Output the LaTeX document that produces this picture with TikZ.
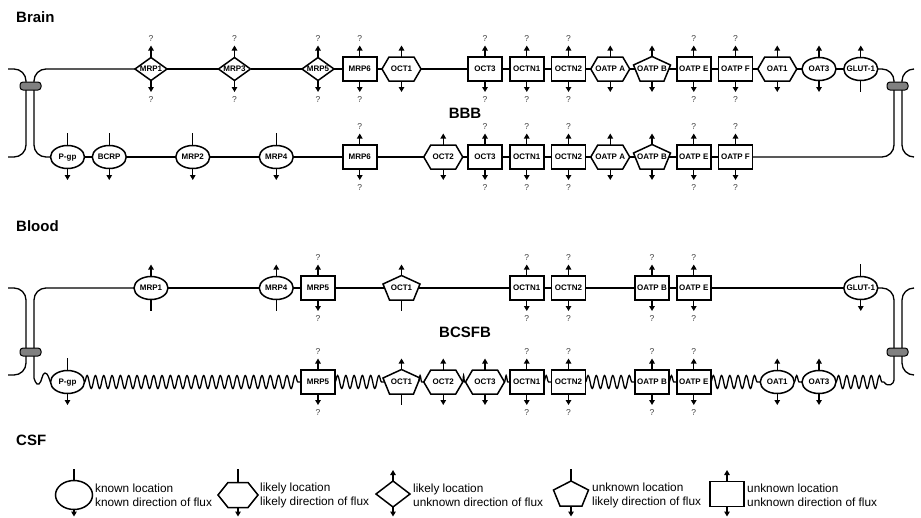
\documentclass[tikz,border=0pt]{standalone}
\usepackage{fontspec}
\setmainfont{Liberation Sans}
\usetikzlibrary{arrows.meta,decorations.pathmorphing}
\newcommand\XK[1]{151+41.75*(#1)}
\tikzset{
  membrane/.style={line width=1.3pt, draw=black},
  outline/.style={line width=1.5pt, draw=black, fill=white},
  tbox/.style={rectangle, inner sep=0pt, outer sep=0pt, font=\bfseries\fontsize{8}{9}\selectfont, text height=5.8pt, text depth=0pt},
  flux/.style={line width=1.3pt, -{Triangle[width=5.5pt,length=5pt]}},
  tick/.style={line width=1.3pt},
  qmark/.style={inner sep=0pt, font=\fontsize{8.5}{9}\selectfont, text=black!75, text height=6pt, text depth=0pt},
  sect/.style={font=\bfseries\fontsize{15}{17}\selectfont, inner sep=0pt},
  junction/.style={rectangle, rounded corners=3pt, draw=black, line width=1pt, fill=black!50, minimum width=21pt, minimum height=8pt, inner sep=0pt},
  wavy/.style={decorate, decoration={snake, segment length=#1, amplitude=6.5pt}},
  legtext/.style={anchor=west, align=left, inner sep=0pt, font=\fontsize{11.8}{14}\selectfont},
}
% transporter shapes: name, grid index, y, text
\newcommand\REC[4]{\node[tbox, draw, fill=white, line width=1.5pt, minimum width=34pt, minimum height=24pt] (#1) at ({\XK{#2}},#3) {#4};}
\newcommand\ELL[4]{\path[outline] ({\XK{#2}},#3) ellipse [x radius=17pt, y radius=11.5pt];
  \node[tbox, minimum width=34pt, minimum height=23pt] (#1) at ({\XK{#2}},#3) {#4};}
\newcommand\HEX[4]{\path[outline, shift={({\XK{#2}},#3)}] (-19.5,0) -- (-12.5,-12) -- (12.5,-12) -- (19.5,0) -- (12.5,12) -- (-12.5,12) -- cycle;
  \node[tbox, minimum width=39pt, minimum height=24pt] (#1) at ({\XK{#2}},#3) {#4};}
\newcommand\PEN[4]{\path[outline, shift={({\XK{#2}},#3)}] (0,-12.5) -- (18.5,-4) -- (12,12) -- (-12,12) -- (-18.5,-4) -- cycle;
  \node[tbox, minimum width=33.8pt, minimum height=24pt] (#1) at ({\XK{#2}},#3) {#4};}
\newcommand\DIA[4]{\path[outline, shift={({\XK{#2}},#3)}] (-16,0) -- (0,-11.5) -- (16,0) -- (0,11.5) -- cycle;
  \node[tbox, minimum width=32pt, minimum height=23pt] (#1) at ({\XK{#2}},#3) {#4};}
% flux marks
\newcommand\UParr[1]{\coordinate (#1-t) at ([yshift=23.5pt]#1.center); \draw[flux] (#1) -- (#1-t);}
\newcommand\DNarr[1]{\coordinate (#1-b) at ([yshift=-23pt]#1.center); \draw[flux] (#1) -- (#1-b);}
\newcommand\UPtick[1]{\coordinate (#1-t) at ([yshift=24pt]#1.center); \draw[tick] (#1) -- (#1-t);}
\newcommand\DNtick[1]{\coordinate (#1-b) at ([yshift=-23pt]#1.center); \draw[tick] (#1) -- (#1-b);}
\newcommand\Qmarks[1]{\node[qmark] (#1-qt) at ([yshift=31pt]#1.center) {?};
  \node[qmark] (#1-qb) at ([yshift=-30.5pt]#1.center) {?};}
\newcommand\FQ[1]{\UParr{#1}\DNarr{#1}\Qmarks{#1}}
\newcommand\FUD[1]{\UParr{#1}\DNarr{#1}}
\newcommand\FUP[1]{\UParr{#1}\DNtick{#1}}
\newcommand\FDN[1]{\UPtick{#1}\DNarr{#1}}
\begin{document}
\begin{tikzpicture}[x=1pt, y=-1pt]
\fill[white] (0,0) rectangle (921,517);
\useasboundingbox (0,0) rectangle (921,517);

% section labels
\node[sect, anchor=west] (lbl-brain) at (16,17) {Brain};
\node[sect] (lbl-bbb) at (465,113) {BBB};
\node[sect, anchor=west] (lbl-blood) at (16,226) {Blood};
\node[sect] (lbl-bcsfb) at (465,332) {BCSFB};
\node[sect, anchor=west] (lbl-csf) at (16,440) {CSF};

% ---------------- BBB top (brain side) ----------------
\DIA{bt-mrp1}{0}{69}{MRP1}
\DIA{bt-mrp3}{2}{69}{MRP3}
\DIA{bt-mrp5}{4}{69}{MRP5}
\REC{bt-mrp6}{5}{69}{MRP6}
\HEX{bt-oct1}{6}{69}{OCT1}
\REC{bt-oct3}{8}{69}{OCT3}
\REC{bt-octn1}{9}{69}{OCTN1}
\REC{bt-octn2}{10}{69}{OCTN2}
\HEX{bt-oatpa}{11}{69}{OATP A}
\PEN{bt-oatpb}{12}{69}{OATP B}
\REC{bt-oatpe}{13}{69}{OATP E}
\REC{bt-oatpf}{14}{69}{OATP F}
\HEX{bt-oat1}{15}{69}{OAT1}
\ELL{bt-oat3}{16}{69}{OAT3}
\ELL{bt-glut1}{17}{69}{GLUT-1}
\FQ{bt-mrp1}\FQ{bt-mrp3}\FQ{bt-mrp5}\FQ{bt-mrp6}\FUD{bt-oct1}\FQ{bt-oct3}\FQ{bt-octn1}\FQ{bt-octn2}
\FUD{bt-oatpa}\FUD{bt-oatpb}\FQ{bt-oatpe}\FQ{bt-oatpf}\FUD{bt-oat1}\FUD{bt-oat3}\FUP{bt-glut1}

% ---------------- BBB bottom (blood side) ----------------
\ELL{bb-pgp}{-2}{157}{P-gp}
\ELL{bb-bcrp}{-1}{157}{BCRP}
\ELL{bb-mrp2}{1}{157}{MRP2}
\ELL{bb-mrp4}{3}{157}{MRP4}
\REC{bb-mrp6}{5}{157}{MRP6}
\HEX{bb-oct2}{7}{157}{OCT2}
\REC{bb-oct3}{8}{157}{OCT3}
\REC{bb-octn1}{9}{157}{OCTN1}
\REC{bb-octn2}{10}{157}{OCTN2}
\HEX{bb-oatpa}{11}{157}{OATP A}
\PEN{bb-oatpb}{12}{157}{OATP B}
\REC{bb-oatpe}{13}{157}{OATP E}
\REC{bb-oatpf}{14}{157}{OATP F}
\FDN{bb-pgp}\FDN{bb-bcrp}\FDN{bb-mrp2}\FDN{bb-mrp4}\FQ{bb-mrp6}\FUD{bb-oct2}\FQ{bb-oct3}\FQ{bb-octn1}
\FQ{bb-octn2}\FUD{bb-oatpa}\FUD{bb-oatpb}\FQ{bb-oatpe}\FQ{bb-oatpf}

% ---------------- BCSFB top (blood side) ----------------
\ELL{ct-mrp1}{0}{288}{MRP1}
\ELL{ct-mrp4}{3}{288}{MRP4}
\REC{ct-mrp5}{4}{288}{MRP5}
\PEN{ct-oct1}{6}{288}{OCT1}
\REC{ct-octn1}{9}{288}{OCTN1}
\REC{ct-octn2}{10}{288}{OCTN2}
\REC{ct-oatpb}{12}{288}{OATP B}
\REC{ct-oatpe}{13}{288}{OATP E}
\ELL{ct-glut1}{17}{288}{GLUT-1}
\FUP{ct-mrp1}\FUP{ct-mrp4}\FQ{ct-mrp5}\FUP{ct-oct1}\FQ{ct-octn1}\FQ{ct-octn2}\FQ{ct-oatpb}\FQ{ct-oatpe}\FDN{ct-glut1}

% ---------------- BCSFB bottom (CSF side) ----------------
\ELL{cb-pgp}{-2}{382}{P-gp}
\REC{cb-mrp5}{4}{382}{MRP5}
\PEN{cb-oct1}{6}{382}{OCT1}
\HEX{cb-oct2}{7}{382}{OCT2}
\HEX{cb-oct3}{8}{382}{OCT3}
\REC{cb-octn1}{9}{382}{OCTN1}
\REC{cb-octn2}{10}{382}{OCTN2}
\REC{cb-oatpb}{12}{382}{OATP B}
\REC{cb-oatpe}{13}{382}{OATP E}
\ELL{cb-oat1}{15}{382}{OAT1}
\ELL{cb-oat3}{16}{382}{OAT3}
\FDN{cb-pgp}\FQ{cb-mrp5}\FUP{cb-oct1}\FUD{cb-oct2}\FUD{cb-oct3}\FQ{cb-octn1}\FQ{cb-octn2}
\FQ{cb-oatpb}\FQ{cb-oatpe}\FUD{cb-oat1}\FUD{cb-oat3}

% ---------------- straight membranes ----------------
\foreach \a/\b in {bt-mrp1/bt-mrp3, bt-mrp3/bt-mrp5, bt-mrp5/bt-mrp6, bt-mrp6/bt-oct1, bt-oct1/bt-oct3,
  bt-oct3/bt-octn1, bt-octn1/bt-octn2, bt-octn2/bt-oatpa, bt-oatpa/bt-oatpb, bt-oatpb/bt-oatpe,
  bt-oatpe/bt-oatpf, bt-oatpf/bt-oat1, bt-oat1/bt-oat3, bt-oat3/bt-glut1,
  bb-pgp/bb-bcrp, bb-bcrp/bb-mrp2, bb-mrp2/bb-mrp4, bb-mrp4/bb-mrp6, bb-mrp6/bb-oct2, bb-oct2/bb-oct3,
  bb-oct3/bb-octn1, bb-octn1/bb-octn2, bb-octn2/bb-oatpa, bb-oatpa/bb-oatpb, bb-oatpb/bb-oatpe, bb-oatpe/bb-oatpf,
  ct-mrp1/ct-mrp4, ct-mrp4/ct-mrp5, ct-mrp5/ct-oct1, ct-oct1/ct-octn1, ct-octn1/ct-octn2, ct-octn2/ct-oatpb,
  ct-oatpb/ct-oatpe, ct-oatpe/ct-glut1}
  \draw[membrane] (\a.east) -- (\b.west);

% ---------------- wavy (microvilli) membrane ----------------
\coordinate (wend) at (884,382);
\draw[membrane, wavy=8.327] (cb-pgp.east) -- (cb-mrp5.west);
\draw[membrane, wavy=8.267] (cb-mrp5.east) -- (cb-oct1.west);
\draw[membrane, wavy=5.35] (cb-oct1.east) -- (cb-oct2.west);
\draw[membrane, wavy=2.75] (cb-oct2.east) -- (cb-oct3.west);
\draw[membrane, wavy=5.25] (cb-oct3.east) -- (cb-octn1.west);
\draw[membrane, wavy=7.75] (cb-octn1.east) -- (cb-octn2.west);
\draw[membrane, wavy=8.25] (cb-octn2.east) -- (cb-oatpb.west);
\draw[membrane, wavy=7.75] (cb-oatpb.east) -- (cb-oatpe.west);
\draw[membrane, wavy=8.25] (cb-oatpe.east) -- (cb-oat1.west);
\draw[membrane, wavy=7.75] (cb-oat1.east) -- (cb-oat3.west);
\draw[membrane, wavy=8.17] (cb-oat3.east) -- (wend);

% ---------------- cell borders and junctions ----------------
\coordinate (bbbL1) at (8,69);   \coordinate (bbbL2) at (8,157);
\coordinate (bbbR1) at (914,69); \coordinate (bbbR2) at (914,157);
\coordinate (csfL1) at (8,288);  \coordinate (csfL2) at (8,375);
\coordinate (csfR1) at (914,288); \coordinate (csfR2) at (914,375);

\draw[membrane, rounded corners=12pt] (bbbL1) -| (26,157) -- (bbbL2);
\draw[membrane, rounded corners=12pt] (bt-mrp1.west) -| (34,157) -- (bb-pgp.west);
\draw[membrane, rounded corners=12pt] (bt-glut1.east) -| (894,157) -- (bb-oatpf.east);
\draw[membrane, rounded corners=12pt] (bbbR1) -| (902,157) -- (bbbR2);

\draw[membrane, rounded corners=12pt] (csfL1) -| (26,375) -- (csfL2);
\draw[membrane, rounded corners=12pt] (ct-mrp1.west) -| (34,366) [sharp corners]
  .. controls (34,378) and (36,386) .. (39,384)
  .. controls (42,382) and (42,373) .. (45,373)
  .. controls (48,373) and (49,379) .. (cb-pgp.west);
\draw[membrane, rounded corners=12pt] (ct-glut1.east) -| (894,368) [sharp corners]
  .. controls (894,384) and (888,388) .. (wend);
\draw[membrane, rounded corners=12pt] (csfR1) -| (902,375) -- (csfR2);

\node[junction] (tj-bbb-l) at (30.5,86) {};
\node[junction] (tj-bbb-r) at (897.5,86) {};
\node[junction] (tj-csf-l) at (30.5,352) {};
\node[junction] (tj-csf-r) at (897.5,352) {};

% ---------------- legend ----------------
\path[outline] (74,495) ellipse [x radius=18.5pt, y radius=14.5pt];
\node[inner sep=0pt, outer sep=0pt, minimum width=37pt, minimum height=29pt] (lg-ell) at (74,495) {};
\coordinate (lg-ell-t) at (74,469); \draw[tick] (lg-ell) -- (lg-ell-t);
\coordinate (lg-ell-b) at (74,516.5); \draw[flux] (lg-ell) -- (lg-ell-b);
\node[legtext] (lg-ell-txt) at (95,495) {known location\\known direction of flux};

\path[outline, shift={(238,495)}] (-20,0) -- (-10,-12.5) -- (10,-12.5) -- (20,0) -- (10,12.5) -- (-10,12.5) -- cycle;
\node[inner sep=0pt, outer sep=0pt, minimum width=40pt, minimum height=25pt] (lg-hex) at (238,495) {};
\coordinate (lg-hex-t) at (238,469); \draw[tick] (lg-hex) -- (lg-hex-t);
\coordinate (lg-hex-b) at (238,516.5); \draw[flux] (lg-hex) -- (lg-hex-b);
\node[legtext] (lg-hex-txt) at (260,495) {likely location\\likely direction of flux};

\path[outline, shift={(393,494)}] (-17,0) -- (0,-13) -- (17,0) -- (0,13) -- cycle;
\node[inner sep=0pt, outer sep=0pt, minimum width=34pt, minimum height=26pt] (lg-dia) at (393,494) {};
\coordinate (lg-dia-t) at (393,470); \draw[flux] (lg-dia) -- (lg-dia-t);
\coordinate (lg-dia-b) at (393,516.5); \draw[flux] (lg-dia) -- (lg-dia-b);
\node[legtext] (lg-dia-txt) at (413,495) {likely location\\unknown direction of flux};

\path[outline, shift={(571,494)}] (0,-13) -- (17.5,-4) -- (11,12) -- (-11,12) -- (-17.5,-4) -- cycle;
\node[inner sep=0pt, outer sep=0pt, minimum width=34pt, minimum height=25pt] (lg-pen) at (571,494) {};
\coordinate (lg-pen-t) at (571,469); \draw[tick] (lg-pen) -- (lg-pen-t);
\coordinate (lg-pen-b) at (571,516.5); \draw[flux] (lg-pen) -- (lg-pen-b);
\node[legtext] (lg-pen-txt) at (592,495) {unknown location\\likely direction of flux};

\node[draw, line width=1.5pt, fill=white, inner sep=0pt, outer sep=0pt, minimum width=34pt, minimum height=25pt] (lg-rec) at (727,494) {};
\coordinate (lg-rec-t) at (727,470); \draw[flux] (lg-rec) -- (lg-rec-t);
\coordinate (lg-rec-b) at (727,516.5); \draw[flux] (lg-rec) -- (lg-rec-b);
\node[legtext] (lg-rec-txt) at (747,495) {unknown location\\unknown direction of flux};
\end{tikzpicture}
\end{document}
